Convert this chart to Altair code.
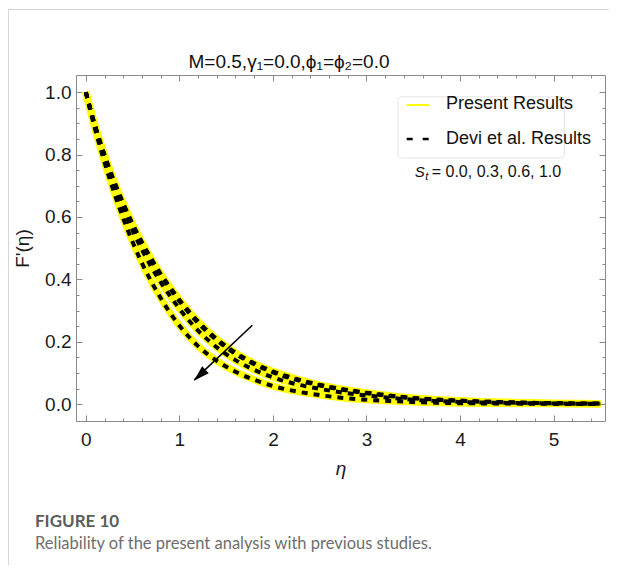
import altair as alt
import pandas as pd

# ---------------- data ----------------
eta = [0, 0.1, 0.2, 0.3, 0.4, 0.5, 0.6, 0.7, 0.8, 0.9, 1.0, 1.2, 1.4, 1.6, 1.8,
       2.0, 2.25, 2.5, 2.75, 3.0, 3.5, 4.0, 4.5, 5.0, 5.5]
f_st00 = [1.000, 0.892, 0.799, 0.717, 0.644, 0.578, 0.519, 0.466, 0.418, 0.375, 0.335,
          0.265, 0.209, 0.165, 0.131, 0.105, 0.081, 0.062, 0.048, 0.037, 0.020, 0.011,
          0.006, 0.003, 0.002]
f_st03 = [1.000, 0.891, 0.797, 0.714, 0.640, 0.574, 0.514, 0.461, 0.413, 0.370, 0.330,
          0.260, 0.205, 0.161, 0.128, 0.102, 0.078, 0.060, 0.046, 0.035, 0.019, 0.011,
          0.006, 0.003, 0.002]
f_st06 = [1.000, 0.887, 0.789, 0.702, 0.625, 0.556, 0.495, 0.440, 0.391, 0.347, 0.306,
          0.236, 0.182, 0.141, 0.110, 0.086, 0.064, 0.049, 0.037, 0.028, 0.014, 0.007,
          0.004, 0.002, 0.001]
f_st10 = [1.000, 0.880, 0.775, 0.680, 0.595, 0.520, 0.452, 0.393, 0.340, 0.293, 0.252,
          0.186, 0.139, 0.104, 0.078, 0.058, 0.041, 0.029, 0.020, 0.014, 0.007, 0.003,
          0.002, 0.001, 0.000]
st_labels = ["0.0", "0.3", "0.6", "1.0"]

x_major = [0, 1, 2, 3, 4, 5]
x_minor = [0.0, 0.2, 0.4, 0.6, 0.8, 1.0, 1.2, 1.4, 1.6, 1.8, 2.0, 2.2, 2.4, 2.6, 2.8,
           3.0, 3.2, 3.4, 3.6, 3.8, 4.0, 4.2, 4.4, 4.6, 4.8, 5.0, 5.2, 5.4]
y_major = [0.0, 0.2, 0.4, 0.6, 0.8, 1.0]
y_minor = [0.0, 0.05, 0.1, 0.15, 0.2, 0.25, 0.3, 0.35, 0.4, 0.45, 0.5, 0.55, 0.6,
           0.65, 0.7, 0.75, 0.8, 0.85, 0.9, 0.95, 1.0]

title_text = "M=0.5,γ₁=0.0,ϕ₁=ϕ₂=0.0"
legend_labels = ["Present Results", "Devi et al. Results"]
st_text = "= 0.0, 0.3, 0.6, 1.0"
caption_head = "FIGURE 10"
caption_text = "Reliability of the present analysis with previous studies."

# ---------------- layout / style constants ----------------
FONT = "Liberation Sans"
xs = alt.Scale(domain=[-0.105, 5.55], nice=False, zero=False)
ys = alt.Scale(domain=[-0.054, 1.055], nice=False, zero=False)
FRAME = "#8a8a8a"

rows = []
for lab, vals in zip(st_labels, [f_st00, f_st03, f_st06, f_st10]):
    for e, v in zip(eta, vals):
        rows.append({"eta": e, "F": v, "St": lab})
df = pd.DataFrame(rows)


def tick_axis(orient, values, size, labels=False, **kw):
    return alt.Axis(orient=orient, values=values, tickSize=size, offset=-size,
                    labels=labels, domain=False, grid=False, tickColor=FRAME,
                    tickWidth=1, **kw)


yellow = alt.Chart(df).mark_line(color="#FFFF00", strokeWidth=7, interpolate="monotone").encode(
    x=alt.X("eta:Q", scale=xs,
            axis=tick_axis("bottom", x_major, 6, labels=True, format="d", labelPadding=9,
                           title="η", titleFontStyle="italic", titlePadding=10)),
    y=alt.Y("F:Q", scale=ys,
            axis=tick_axis("left", y_major, 6, labels=True, format=".1f", labelPadding=5,
                           title="F'(η)", titlePadding=12)),
    detail="St:N",
)

dashed = alt.Chart(df).mark_line(color="black", strokeWidth=4, strokeDash=[6, 6],
                                 interpolate="monotone").encode(
    x=alt.X("eta:Q", scale=xs, axis=tick_axis("top", x_major, 6, title=None)),
    y=alt.Y("F:Q", scale=ys, axis=tick_axis("right", y_major, 6, title=None)),
    detail="St:N",
)

# legend box (also carries the bottom/left minor ticks)
box_df = pd.DataFrame({"x": [3.337], "x2": [5.116], "y": [0.789], "y2": [0.985]})
box = alt.Chart(box_df).mark_rect(fill="white", stroke="#e4e4e4", strokeWidth=1,
                                  cornerRadius=4).encode(
    x=alt.X("x:Q", scale=xs, axis=tick_axis("bottom", x_minor, 3, title=None)),
    x2="x2:Q",
    y=alt.Y("y:Q", scale=ys, axis=tick_axis("left", y_minor, 3, title=None)),
    y2="y2:Q",
)

# arrow (also carries top/right minor ticks)
arrow_df = pd.DataFrame({"x": [1.78], "y": [0.253], "x2": [1.16], "y2": [0.078]})
arrow_line = alt.Chart(arrow_df).mark_rule(color="black", strokeWidth=1.6).encode(
    x=alt.X("x:Q", scale=xs, axis=tick_axis("top", x_minor, 3, title=None)),
    y=alt.Y("y:Q", scale=ys, axis=tick_axis("right", y_minor, 3, title=None)),
    x2="x2:Q", y2="y2:Q",
)
head_df = pd.DataFrame({"x": [1.155], "y": [0.075]})
arrow_head = alt.Chart(head_df).mark_point(
    shape="M0,0 L-0.3,1 L0.3,1 Z", filled=True, color="black", opacity=1,
    size=1024, angle=226.5, strokeWidth=0,
).encode(x=alt.X("x:Q", scale=xs, axis=None), y=alt.Y("y:Q", scale=ys, axis=None))

# legend samples
samp_df = pd.DataFrame({"x": [3.43, 3.43], "x2": [3.67, 3.67], "y": [0.959, 0.850],
                        "k": ["present", "devi"]})
samp_yellow = alt.Chart(samp_df[samp_df.k == "present"]).mark_rule(
    color="#FFFF00", strokeWidth=2).encode(
    x=alt.X("x:Q", scale=xs, axis=None), x2="x2:Q", y=alt.Y("y:Q", scale=ys, axis=None))
samp_dash = alt.Chart(samp_df[samp_df.k == "devi"]).mark_rule(
    color="black", strokeWidth=2.5, strokeDash=[6, 10]).encode(
    x=alt.X("x:Q", scale=xs, axis=None), x2="x2:Q", y=alt.Y("y:Q", scale=ys, axis=None))

leg_txt_df = pd.DataFrame({"x": [3.85, 3.85], "y": [0.962, 0.850], "t": legend_labels})
leg_txt = alt.Chart(leg_txt_df).mark_text(align="left", baseline="middle", fontSize=18,
                                          font=FONT, color="#111").encode(
    x=alt.X("x:Q", scale=xs, axis=None), y=alt.Y("y:Q", scale=ys, axis=None), text="t:N")

st_df = pd.DataFrame({"x": [3.516], "y": [0.744], "s": ["S"], "sub": ["t"], "rest": [st_text]})
st_s = alt.Chart(st_df).mark_text(align="left", baseline="middle", fontSize=15, font=FONT,
                                  fontStyle="italic", color="#111").encode(
    x=alt.X("x:Q", scale=xs, axis=None), y=alt.Y("y:Q", scale=ys, axis=None), text="s:N")
st_sub = alt.Chart(st_df).mark_text(align="left", baseline="middle", fontSize=11, font=FONT,
                                    fontStyle="italic", color="#111", dx=10.5, dy=5).encode(
    x=alt.X("x:Q", scale=xs, axis=None), y=alt.Y("y:Q", scale=ys, axis=None), text="sub:N")
st_rest = alt.Chart(st_df).mark_text(align="left", baseline="middle", fontSize=16, font=FONT,
                                     color="#111", dx=17).encode(
    x=alt.X("x:Q", scale=xs, axis=None), y=alt.Y("y:Q", scale=ys, axis=None), text="rest:N")

# title above the plot
title_mark = alt.Chart(pd.DataFrame({"t": [title_text]})).mark_text(
    align="center", baseline="middle", fontSize=19, font=FONT, color="#111").encode(
    text="t:N", x=alt.value(213), y=alt.value(-13))

# caption below the figure
cap1 = alt.Chart(pd.DataFrame({"t": [caption_head]})).mark_text(
    align="left", baseline="alphabetic", fontSize=17, font="Lato", fontWeight="bold",
    color="#5c5c5c").encode(text="t:N", x=alt.value(-41), y=alt.value(452))
cap2 = alt.Chart(pd.DataFrame({"t": [caption_text]})).mark_text(
    align="left", baseline="alphabetic", fontSize=16.5, font="Lato",
    color="#6e6e6e").encode(text="t:N", x=alt.value(-41), y=alt.value(474))

# card border (left and top)
one = pd.DataFrame({"a": [0]})
border_left = alt.Chart(one).mark_rule(color="#d6d6d6", strokeWidth=1).encode(
    x=alt.value(-67.5), y=alt.value(-66), y2=alt.value(490))
border_top = alt.Chart(one).mark_rule(color="#d6d6d6", strokeWidth=1).encode(
    x=alt.value(-67.5), x2=alt.value(541), y=alt.value(-65.5))

chart = alt.layer(
    yellow, dashed, box, arrow_line, arrow_head, samp_yellow, samp_dash, leg_txt,
    st_s, st_sub, st_rest, title_mark, cap1, cap2, border_left, border_top,
).resolve_axis(x="independent", y="independent").properties(
    width=529, height=346,
    autosize=alt.AutoSizeParams(type="none"),
    padding={"left": 68, "top": 67, "right": 4, "bottom": 147},
    background="white",
).configure_view(stroke=FRAME, strokeWidth=1).configure_axis(
    labelFont=FONT, labelFontSize=19, labelColor="#1a1a1a",
    titleFont=FONT, titleFontSize=19, titleFontWeight="normal", titleColor="#1a1a1a",
)

chart.save("out.html", embed_options={"renderer": "svg", "actions": False})
